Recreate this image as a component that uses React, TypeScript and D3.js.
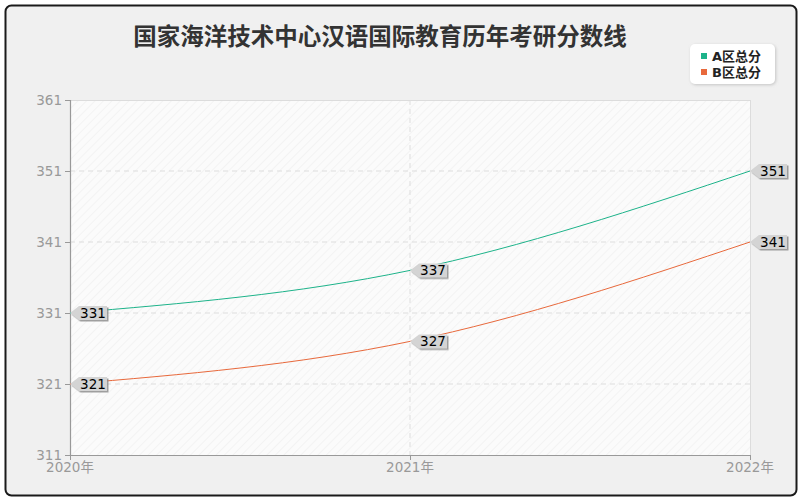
import React from "react";
import * as d3 from "d3";

const years = ["2020年", "2021年", "2022年"];
const seriesA = [331, 337, 351];
const seriesB = [321, 327, 341];
const yTicks = [311, 321, 331, 341, 351, 361];
const seriesNames = ["A区总分", "B区总分"];
const colors = ["#1db38a", "#e8693c"];
const title = "国家海洋技术中心汉语国际教育历年考研分数线";

const W = 800, H = 500;
const left = 70, right = 750, top = 100, bottom = 455;

export default function App() {
  const x = d3.scalePoint<string>().domain(years).range([left, right]);
  const y = d3.scaleLinear().domain([311, 361]).range([bottom, top]);
  const line = d3
    .line<number>()
    .x((_, i) => x(years[i]) as number)
    .y((d) => y(d))
    .curve(d3.curveMonotoneX);
  const all = [seriesA, seriesB];
  const font = "'DejaVu Sans', 'Noto Sans CJK SC', sans-serif";

  return (
    <div style={{ position: "absolute", left: 0, top: 0 }}>
      <svg width={W} height={H} style={{ display: "block", fontFamily: font }}>
        <defs>
          <pattern id="hatch" width="6" height="6" patternUnits="userSpaceOnUse" patternTransform="rotate(45)">
            <rect width="6" height="6" fill="#fbfbfb" />
            <line x1="0" y1="0" x2="0" y2="6" stroke="#ececec" strokeWidth="1" />
          </pattern>
          <filter id="sh" x="-20%" y="-20%" width="150%" height="150%">
            <feDropShadow dx="1.5" dy="1.5" stdDeviation="0.6" floodColor="#888" floodOpacity="0.8" />
          </filter>
          <filter id="lsh" x="-10%" y="-10%" width="130%" height="130%">
            <feDropShadow dx="1" dy="1" stdDeviation="1.5" floodColor="#999" floodOpacity="0.5" />
          </filter>
        </defs>
        <rect x={0} y={0} width={W} height={H} fill="#ffffff" />
        <rect x={5.5} y={5.5} width={791} height={490} rx={6} fill="#f0f0f0" stroke="#1a1a1a" strokeWidth={2} />
        <text x={380} y={45} textAnchor="middle" fontSize={23.5} fontWeight="bold" fill="#333">
          {title}
        </text>
        <rect x={left} y={top} width={right - left} height={bottom - top} fill="url(#hatch)" />
        <line x1={left} x2={right} y1={top + 0.5} y2={top + 0.5} stroke="#dcdcdc" />
        <line x1={right + 0.5} x2={right + 0.5} y1={top} y2={bottom} stroke="#dcdcdc" />
        {yTicks.slice(1, -1).map((t) => (
          <line key={t} x1={left} x2={right} y1={y(t)} y2={y(t)} stroke="#dddddd" strokeDasharray="5,4" />
        ))}
        {years.slice(1, -1).map((yr) => (
          <line key={yr} x1={x(yr)} x2={x(yr)} y1={top} y2={bottom} stroke="#dddddd" strokeDasharray="5,4" />
        ))}
        <line x1={left + 0.5} x2={left + 0.5} y1={top} y2={bottom} stroke="#999" strokeWidth={1.2} />
        <line x1={left} x2={right} y1={bottom + 0.5} y2={bottom + 0.5} stroke="#999" strokeWidth={1.2} />
        {yTicks.map((t) => (
          <g key={t}>
            <line x1={left - 5} x2={left} y1={y(t) + 0.5} y2={y(t) + 0.5} stroke="#999" />
            <text x={left - 8} y={y(t) + 5} textAnchor="end" fontSize={13.5} fill="#999">
              {t}
            </text>
          </g>
        ))}
        {years.map((yr) => (
          <g key={yr}>
            <line x1={x(yr)! + 0.5} x2={x(yr)! + 0.5} y1={bottom} y2={bottom + 5} stroke="#999" />
            <text x={x(yr)} y={bottom + 17} textAnchor="middle" fontSize={13.5} fill="#999">
              {yr}
            </text>
          </g>
        ))}
        {all.map((s, si) => (
          <path key={si} d={line(s) || ""} fill="none" stroke={colors[si]} strokeWidth={1} />
        ))}
        {all.map((s, si) =>
          s.map((v, i) => {
            const px = x(years[i]) as number;
            const py = y(v);
            const pts = [
              [px, py],
              [px + 9, py - 7],
              [px + 37, py - 7],
              [px + 37, py + 7],
              [px + 9, py + 7],
            ]
              .map((p) => p.join(","))
              .join(" ");
            return (
              <g key={`${si}-${i}`}>
                <polygon points={pts} fill="#d4d4d4" filter="url(#sh)" />
                <text x={px + 23} y={py + 5} textAnchor="middle" fontSize={13.5} fill="#000">
                  {v}
                </text>
              </g>
            );
          })
        )}
        <rect x={690} y={44} width={85} height={40} rx={5} fill="#ffffff" filter="url(#lsh)" />
        {seriesNames.map((n, i) => (
          <g key={n}>
            <rect x={701} y={53 + i * 16} width={6} height={6} fill={colors[i]} />
            <text x={712} y={61 + i * 16} fontSize={13} fontWeight="bold" fill="#222">
              {n}
            </text>
          </g>
        ))}
      </svg>
    </div>
  );
}
